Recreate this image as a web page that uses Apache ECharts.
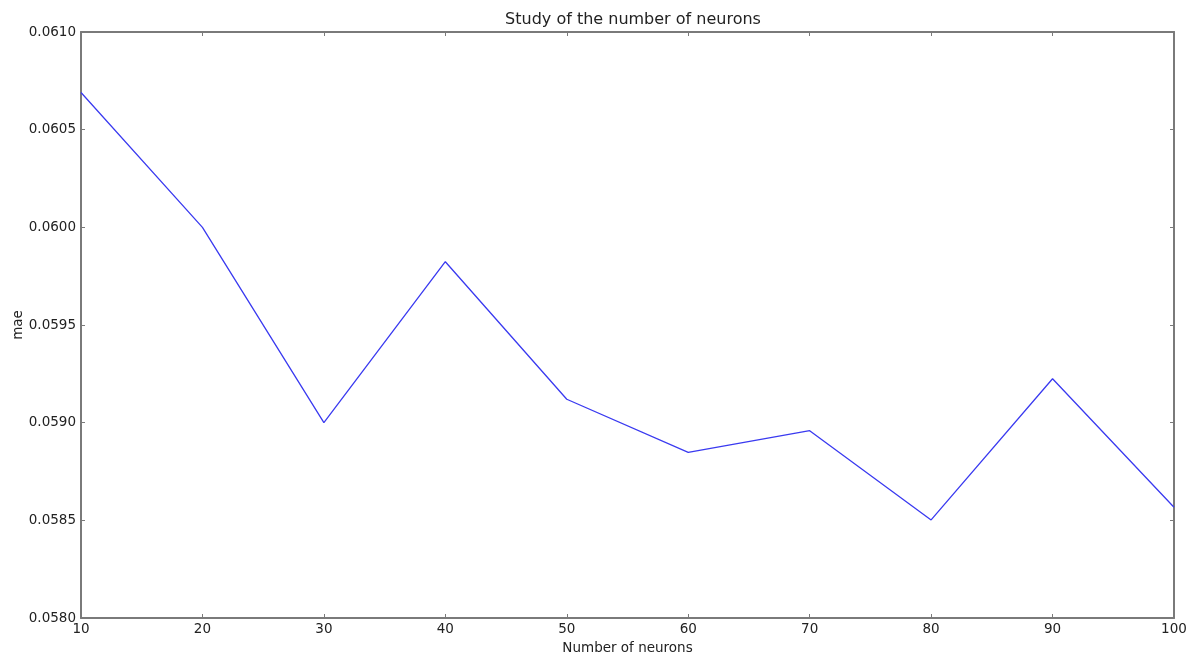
<!DOCTYPE html>
<html>
<head>
<meta charset="utf-8">
<script src="https://cdn.jsdelivr.net/npm/echarts@6/dist/echarts.min.js"></script>
<style>
  html, body { margin: 0; padding: 0; background: #fff; }
  #chart { width: 1194px; height: 655px; }
</style>
</head>
<body>
<div id="chart"></div>
<script>
// Number of neurons tried and the resulting mean absolute error
const neurons = [10, 20, 30, 40, 50, 60, 70, 80, 90, 100];
const mae = [0.06069, 0.06000, 0.05900, 0.059824, 0.05912, 0.058848, 0.058959, 0.058502, 0.059225, 0.058567];

const chart = echarts.init(document.getElementById('chart'));
const axisGray = '#7a7a7a';
const font = 'DejaVu Sans';

const tickStyle = { show: true, inside: true, length: 4, lineStyle: { color: axisGray, width: 1 } };
const lineStyle = { show: true, lineStyle: { color: axisGray, width: 2 } };

chart.setOption({
  animation: false,
  title: {
    text: 'Study of the number of neurons',
    left: 628, top: 7, textAlign: 'center',
    textStyle: { fontFamily: font, fontSize: 16, fontWeight: 'normal', color: '#222' }
  },
  grid: { left: 81, right: 20, top: 32, bottom: 37, outerBoundsMode: 'none', containLabel: false },
  xAxis: [{
    type: 'value', min: 10, max: 100, interval: 10,
    name: 'Number of neurons', nameLocation: 'middle', nameGap: 23, nameMoveOverlap: false,
    nameTextStyle: { fontFamily: font, fontSize: 13.5, color: '#222' },
    axisLine: lineStyle, axisTick: tickStyle, splitLine: { show: false },
    axisLabel: { fontFamily: font, fontSize: 13.5, color: '#222', margin: 4 }
  }, {
    type: 'value', position: 'top', min: 10, max: 100, interval: 10,
    axisLine: lineStyle, axisTick: tickStyle, splitLine: { show: false },
    axisLabel: { show: false }
  }],
  yAxis: [{
    type: 'value', min: 0.058, max: 0.061, interval: 0.0005,
    name: 'mae', nameLocation: 'middle', nameGap: 56, nameRotate: 90, nameMoveOverlap: false,
    nameTextStyle: { fontFamily: font, fontSize: 13.5, color: '#222' },
    axisLine: lineStyle, axisTick: tickStyle, splitLine: { show: false },
    axisLabel: { fontFamily: font, fontSize: 13.5, color: '#222', margin: 5,
      formatter: v => v.toFixed(4) }
  }, {
    type: 'value', position: 'right', min: 0.058, max: 0.061, interval: 0.0005,
    axisLine: lineStyle, axisTick: tickStyle, splitLine: { show: false },
    axisLabel: { show: false }
  }],
  series: [{
    type: 'line',
    data: neurons.map((n, i) => [n, mae[i]]),
    showSymbol: false,
    lineStyle: { color: '#3a3af0', width: 1.3 }
  }]
});
</script>
</body>
</html>
